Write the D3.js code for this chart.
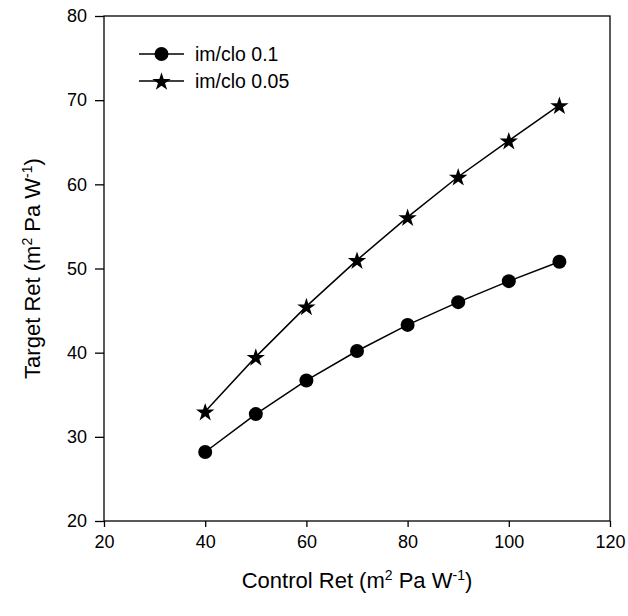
<!DOCTYPE html>
<html>
<head>
<meta charset="utf-8">
<script src="https://cdn.jsdelivr.net/npm/d3@7"></script>
<style>
  body { margin: 0; background: #fff; }
  text { font-family: "Liberation Sans", Arial, sans-serif; fill: #000; }
</style>
</head>
<body>
<div class="chart"></div>
<script>
var width = 628, height = 616;

// data
var controlRet = [40, 50, 60, 70, 80, 90, 100, 110];
var ret01 = [28.2, 32.7, 36.7, 40.2, 43.3, 46.0, 48.5, 50.8];
var ret005 = [33.0, 39.5, 45.5, 51.0, 56.1, 60.9, 65.2, 69.4];
var seriesNames = ['im/clo 0.1', 'im/clo 0.05'];
var xTicks = [20, 40, 60, 80, 100, 120];
var yTicks = [20, 30, 40, 50, 60, 70, 80];

var margin = {left: 104, right: 18, top: 16, bottom: 95};

var svg = d3.select('.chart')
	.append('svg')
	.attr('width', width)
	.attr('height', height);

var x = d3.scaleLinear().domain([20, 120]).range([margin.left, width - margin.right]);
var y = d3.scaleLinear().domain([20, 80]).range([height - margin.bottom, margin.top]);

// frame
svg.append('rect')
	.attr('x', x(20)).attr('y', y(80))
	.attr('width', x(120) - x(20)).attr('height', y(20) - y(80))
	.attr('fill', 'none').attr('stroke', '#000').attr('stroke-width', 1.3);

var xAxis = svg.append('g')
	.attr('transform', 'translate(0,' + y(20) + ')')
	.call(d3.axisBottom(x).tickValues(xTicks).tickSize(6).tickPadding(8));

var yAxis = svg.append('g')
	.attr('transform', 'translate(' + x(20) + ',0)')
	.call(d3.axisLeft(y).tickValues(yTicks).tickSize(9).tickPadding(8));

[xAxis, yAxis].forEach(function(a) {
	a.select('.domain').remove();
	a.selectAll('line').attr('stroke', '#000').attr('stroke-width', 1.3);
	a.selectAll('text')
		.style('font-family', '"Liberation Sans", Arial, sans-serif')
		.style('font-size', '18px')
		.attr('fill', '#000');
});

// axis titles
function title(sel, start) {
	sel.append('tspan').text(start + ' (m');
	sel.append('tspan').attr('dy', -8).style('font-size', '14px').text('2');
	sel.append('tspan').attr('dy', 8).text(' Pa W');
	sel.append('tspan').attr('dy', -8).style('font-size', '14px').text('-1');
	sel.append('tspan').attr('dy', 8).text(')');
}

var xt = svg.append('text')
	.attr('x', (x(20) + x(120)) / 2)
	.attr('y', 588)
	.attr('text-anchor', 'middle')
	.style('font-size', '22px');
title(xt, 'Control Ret');

var yt = svg.append('text')
	.attr('transform', 'translate(40,' + ((y(20) + y(80)) / 2) + ') rotate(-90)')
	.attr('text-anchor', 'middle')
	.style('font-size', '22px');
title(yt, 'Target Ret');

var line = d3.line()
	.x(function(d) { return x(d[0]); })
	.y(function(d) { return y(d[1]); });

var star = d3.symbol().type(d3.symbolStar).size(105);

function drawSeries(vals, kind) {
	var pts = controlRet.map(function(c, i) { return [c, vals[i]]; });
	svg.append('path')
		.datum(pts)
		.attr('d', line)
		.attr('fill', 'none')
		.attr('stroke', '#000')
		.attr('stroke-width', 1.5);
	if (kind == 'circle') {
		svg.selectAll('.pt-c')
			.data(pts)
			.enter().append('circle')
			.attr('class', 'pt-c')
			.attr('cx', function(d) { return x(d[0]); })
			.attr('cy', function(d) { return y(d[1]); })
			.attr('r', 7)
			.attr('fill', '#000');
	} else {
		svg.selectAll('.pt-s')
			.data(pts)
			.enter().append('path')
			.attr('class', 'pt-s')
			.attr('d', star)
			.attr('transform', function(d) { return 'translate(' + x(d[0]) + ',' + (y(d[1]) + 1) + ')'; })
			.attr('fill', '#000');
	}
}

drawSeries(ret01, 'circle');
drawSeries(ret005, 'star');

// legend
var legend = svg.append('g').attr('class', 'legend');
seriesNames.forEach(function(name, i) {
	var ly = 54 + i * 27;
	legend.append('line')
		.attr('x1', 139).attr('x2', 184)
		.attr('y1', ly).attr('y2', ly)
		.attr('stroke', '#000').attr('stroke-width', 1.5);
	if (i == 0) {
		legend.append('circle').attr('cx', 161.5).attr('cy', ly).attr('r', 7).attr('fill', '#000');
	} else {
		legend.append('path').attr('d', star).attr('transform', 'translate(161.5,' + (ly + 1) + ')').attr('fill', '#000');
	}
	legend.append('text')
		.attr('x', 195).attr('y', ly + 7)
		.style('font-size', '19.5px')
		.text(name);
});
</script>
</body>
</html>
